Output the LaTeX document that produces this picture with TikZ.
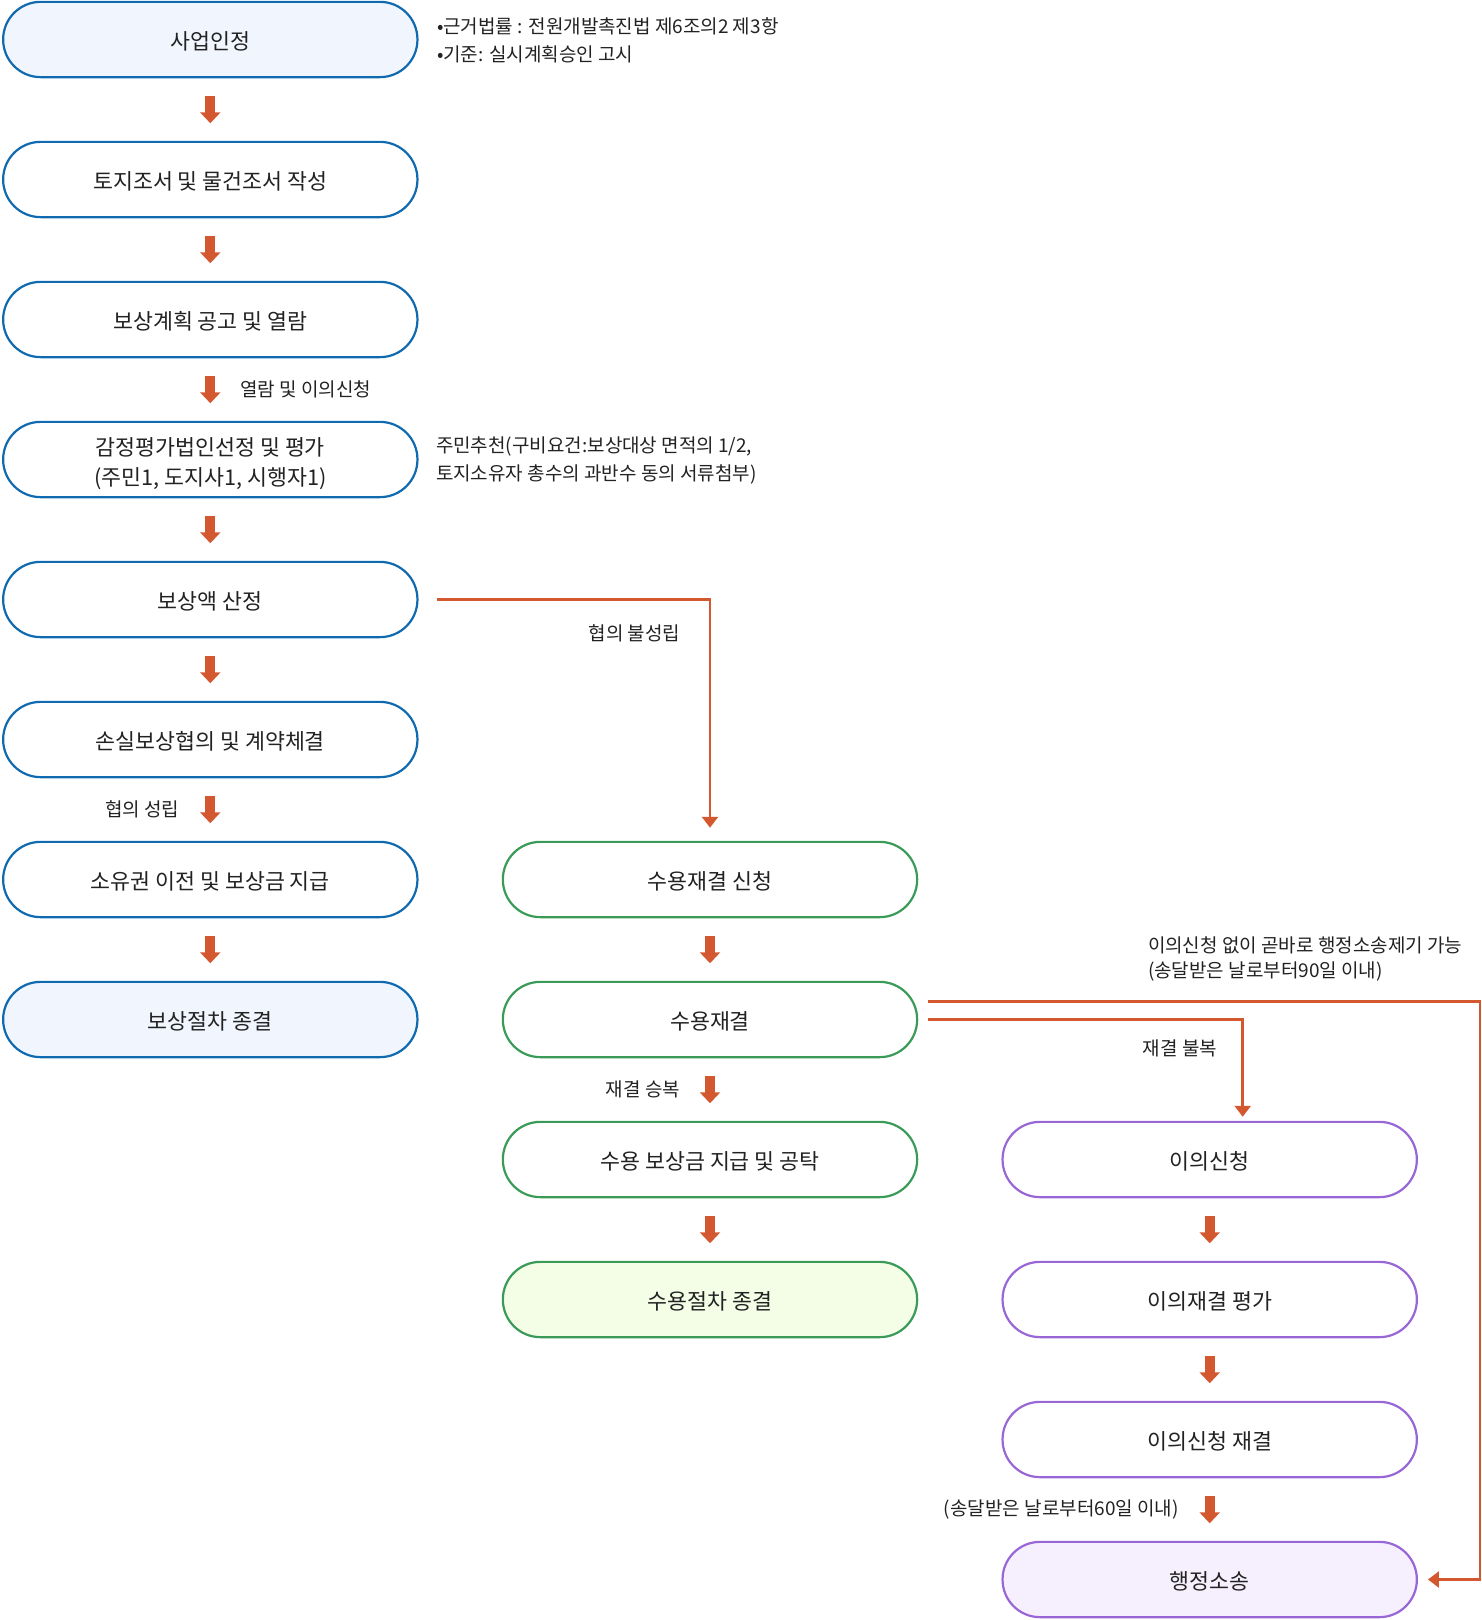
\documentclass[tikz,border=0pt]{standalone}
\usepackage{fontspec}
\setmainfont{Noto Sans CJK KR}
\usetikzlibrary{arrows.meta,calc}
\definecolor{bblue}{HTML}{106AB0}
\definecolor{fblue}{HTML}{F1F5FE}
\definecolor{bgreen}{HTML}{3A9A58}
\definecolor{fgreen}{HTML}{F4FDE6}
\definecolor{bpurple}{HTML}{9966D6}
\definecolor{fpurple}{HTML}{F6F0FE}
\definecolor{aorange}{HTML}{D4582F}
\definecolor{txt}{HTML}{222222}
\newcommand{\bt}[2][-1.8pt]{\raisebox{#1}[\height][\depth]{#2}}
\begin{document}
\begin{tikzpicture}[x=1pt,y=-1pt,
  box/.style={rounded corners=37.5pt, minimum width=414.3pt, minimum height=75.3pt,
    line width=2.2pt, fill=white, text=txt, font=\fontsize{21.7}{30}\selectfont,
    align=center, inner sep=0pt},
  bluebox/.style={box, draw=bblue},
  greenbox/.style={box, draw=bgreen},
  purplebox/.style={box, draw=bpurple},
  lbl/.style={text=txt, font=\fontsize{19}{28}\selectfont, inner sep=0pt, outer sep=0pt, align=left},
  barrow/.style={draw=aorange, line width=10pt,
    -{Triangle[width=20pt,length=11pt]}, shorten <=17.5pt, shorten >=17.5pt},
  conn/.style={draw=aorange, line width=2.5pt,
    -{Triangle[width=16pt,length=11pt]}}
]
\useasboundingbox (0,0) rectangle (1482,1620);

% left column
\node[bluebox, fill=fblue] (n1) at (210.3,39.5) {\bt{사업인정}};
\node[bluebox] (n2) at (210.3,179.5) {\bt{토지조서 및 물건조서 작성}};
\node[bluebox] (n3) at (210.3,319.5) {\bt{보상계획 공고 및 열람}};
\node[bluebox] (n4) at (210.3,459.5) {\bt[-3.8pt]{감정평가법인선정 및 평가}\\\bt[-3.8pt]{(주민1, 도지사1, 시행자1)}};
\node[bluebox] (n5) at (210.3,599.5) {\bt{보상액 산정}};
\node[bluebox] (n6) at (210.3,739.5) {\bt{손실보상협의 및 계약체결}};
\node[bluebox] (n7) at (210.3,879.5) {\bt{소유권 이전 및 보상금 지급}};
\node[bluebox, fill=fblue] (n8) at (210.3,1019.5) {\bt{보상절차 종결}};

% middle column
\node[greenbox] (m1) at (710,879.5) {\bt{수용재결 신청}};
\node[greenbox] (m2) at (710,1019.5) {\bt{수용재결}};
\node[greenbox] (m3) at (710,1159.5) {\bt{수용 보상금 지급 및 공탁}};
\node[greenbox, fill=fgreen] (m4) at (710,1299.5) {\bt{수용절차 종결}};

% right column
\node[purplebox] (r1) at (1209.7,1159.5) {\bt{이의신청}};
\node[purplebox] (r2) at (1209.7,1299.5) {\bt{이의재결 평가}};
\node[purplebox] (r3) at (1209.7,1439.5) {\bt{이의신청 재결}};
\node[purplebox, fill=fpurple] (r4) at (1209.7,1579.5) {\bt{행정소송}};

% block arrows
\draw[barrow] (n1) -- (n2);
\draw[barrow] (n2) -- (n3);
\draw[barrow] (n3) -- (n4) node[lbl, midway, anchor=west, xshift=30pt] (l1) {열람 및 이의신청};
\draw[barrow] (n4) -- (n5);
\draw[barrow] (n5) -- (n6);
\draw[barrow] (n6) -- (n7) node[lbl, midway, anchor=east, xshift=-31pt] (l2) {협의 성립};
\draw[barrow] (n7) -- (n8);
\draw[barrow] (m1) -- (m2);
\draw[barrow] (m2) -- (m3) node[lbl, midway, anchor=east, xshift=-30pt] (l4) {재결 승복};
\draw[barrow] (m3) -- (m4);
\draw[barrow] (r1) -- (r2);
\draw[barrow] (r2) -- (r3);
\draw[barrow] (r3) -- (r4) node[lbl, midway, anchor=east, xshift=-31pt] (l6) {(송달받은 날로부터60일 이내)};

% thin connectors
\draw[conn, shorten <=18pt, shorten >=13pt] (n5.east) -| (m1.north);
\node[lbl] (l3) at (634.5,633) {협의 불성립};

\draw[conn, shorten <=10pt, shorten >=4pt] (m2.east) -| ([xshift=33pt]r1.north);
\node[lbl] (l5) at (1180,1048) {재결 불복};

\coordinate (cR) at (1480,1001.5);
\draw[conn, shorten <=10pt, shorten >=10pt] ([yshift=18pt]m2.east) -- (cR) |- (r4.east);

% annotations
\node[lbl, anchor=west] (a1) at (437,40) {•근거법률 : 전원개발촉진법 제6조의2 제3항\\•기준: 실시계획승인 고시};
\node[lbl, anchor=west] (a2) at (436,460.5) {주민추천(구비요건:보상대상 면적의 1/2,\\토지소유자 총수의 과반수 동의 서류첨부)};
\node[lbl, anchor=west, font=\fontsize{19}{24.8}\selectfont] (a3) at (1148,959) {이의신청 없이 곧바로 행정소송제기 가능\\(송달받은 날로부터90일 이내)};
\end{tikzpicture}
\end{document}
